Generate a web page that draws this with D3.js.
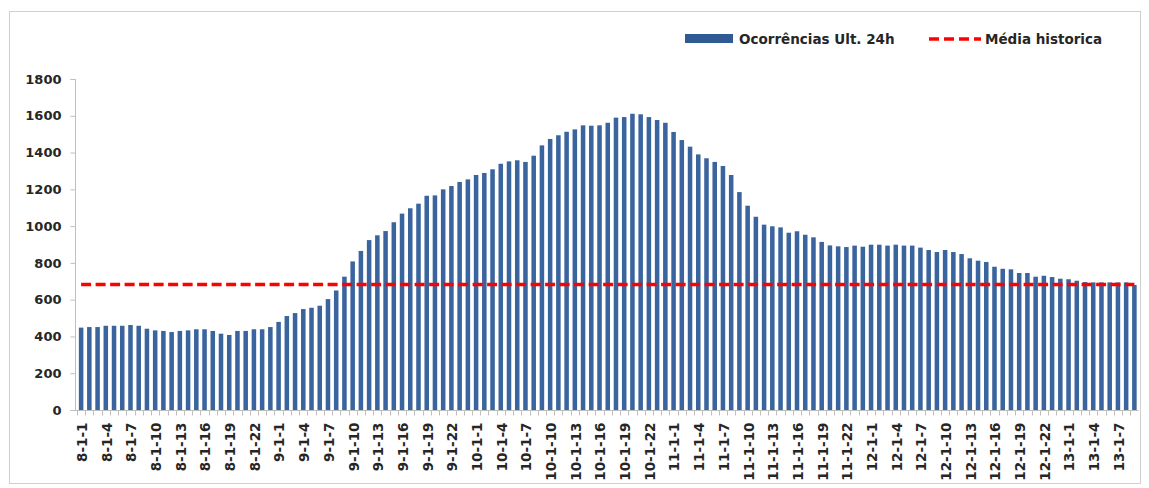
<!DOCTYPE html>
<html>
<head>
<meta charset="utf-8">
<script src="https://cdn.jsdelivr.net/npm/d3@7"></script>
<style>
  html, body { margin: 0; padding: 0; background: #ffffff; }
  svg { display: block; }
  text { font-family: "DejaVu Sans", "Liberation Sans", sans-serif; font-weight: bold; fill: #262626; }
</style>
</head>
<body>
<svg id="chart" width="1149" height="488"></svg>
<script>
// Hourly categories: day-month-hour
const categories = [
  "8-1-1","8-1-2","8-1-3","8-1-4","8-1-5","8-1-6","8-1-7","8-1-8","8-1-9","8-1-10","8-1-11","8-1-12",
  "8-1-13","8-1-14","8-1-15","8-1-16","8-1-17","8-1-18","8-1-19","8-1-20","8-1-21","8-1-22","8-1-23","8-1-24",
  "9-1-1","9-1-2","9-1-3","9-1-4","9-1-5","9-1-6","9-1-7","9-1-8","9-1-9","9-1-10","9-1-11","9-1-12",
  "9-1-13","9-1-14","9-1-15","9-1-16","9-1-17","9-1-18","9-1-19","9-1-20","9-1-21","9-1-22","9-1-23","9-1-24",
  "10-1-1","10-1-2","10-1-3","10-1-4","10-1-5","10-1-6","10-1-7","10-1-8","10-1-9","10-1-10","10-1-11","10-1-12",
  "10-1-13","10-1-14","10-1-15","10-1-16","10-1-17","10-1-18","10-1-19","10-1-20","10-1-21","10-1-22","10-1-23","10-1-24",
  "11-1-1","11-1-2","11-1-3","11-1-4","11-1-5","11-1-6","11-1-7","11-1-8","11-1-9","11-1-10","11-1-11","11-1-12",
  "11-1-13","11-1-14","11-1-15","11-1-16","11-1-17","11-1-18","11-1-19","11-1-20","11-1-21","11-1-22","11-1-23","11-1-24",
  "12-1-1","12-1-2","12-1-3","12-1-4","12-1-5","12-1-6","12-1-7","12-1-8","12-1-9","12-1-10","12-1-11","12-1-12",
  "12-1-13","12-1-14","12-1-15","12-1-16","12-1-17","12-1-18","12-1-19","12-1-20","12-1-21","12-1-22","12-1-23","12-1-24",
  "13-1-1","13-1-2","13-1-3","13-1-4","13-1-5","13-1-6","13-1-7","13-1-8","13-1-9"
];

// Occurrences in the last 24 hours
const occurrences = [
  448, 451, 451, 458, 458, 458, 462, 458, 442, 433, 430, 424,
  430, 433, 439, 439, 430, 415, 408, 430, 430, 439, 439, 451,
  479, 511, 527, 549, 556, 567, 603, 650, 725, 808, 865, 924,
  950, 973, 1021, 1068, 1097, 1122, 1165, 1167, 1200, 1218, 1240, 1254,
  1278, 1289, 1309, 1339, 1352, 1358, 1349, 1383, 1439, 1474, 1494, 1513,
  1526, 1548, 1546, 1548, 1562, 1590, 1593, 1611, 1608, 1593, 1577, 1562,
  1512, 1468, 1432, 1390, 1369, 1349, 1327, 1278, 1185, 1111, 1051, 1008,
  999, 993, 964, 972, 953, 939, 914, 895, 890, 886, 894, 888,
  899, 899, 894, 899, 894, 894, 883, 870, 859, 870, 859, 848,
  825, 812, 805, 779, 768, 765, 745, 745, 725, 730, 723, 714,
  711, 703, 696, 694, 694, 694, 694, 694, 680
];

// Historical average (constant reference)
const historicalAverage = 683;

const yTicks = [0, 200, 400, 600, 800, 1000, 1200, 1400, 1600, 1800];
const seriesNames = ["Ocorrências Ult. 24h", "Média historica"];

const svg = d3.select("#chart");

// outer frame
svg.append("rect")
  .attr("x", 9.5).attr("y", 11.5)
  .attr("width", 1131).attr("height", 472)
  .attr("fill", "none").attr("stroke", "#cfcfcf").attr("stroke-width", 1);

const plotLeft = 75, plotRight = 1138.5, plotTop = 79, plotBottom = 410;

const x = d3.scaleBand()
  .domain(categories)
  .range([plotLeft + 2, plotRight])
  .paddingInner(0.45)
  .paddingOuter(0.225);

const y = d3.scaleLinear()
  .domain([0, 1800])
  .range([plotBottom, plotTop]);

// bars
svg.append("g")
  .selectAll("rect")
  .data(occurrences)
  .join("rect")
  .attr("x", (d, i) => x(categories[i]))
  .attr("y", d => y(d))
  .attr("width", x.bandwidth())
  .attr("height", d => y(0) - y(d))
  .attr("fill", "#3a649d");

// y axis
const yAxis = d3.axisLeft(y)
  .tickValues(yTicks)
  .tickFormat(d3.format("d"))
  .tickSize(5)
  .tickPadding(9);

const gy = svg.append("g")
  .attr("transform", `translate(${plotLeft + 0.5},0)`)
  .call(yAxis);
gy.select(".domain").attr("stroke", "#bfbfbf").attr("d", `M-5,${plotTop + 0.5}H0V${plotBottom + 0.5}H-5`);
gy.selectAll(".tick line").attr("stroke", "#bfbfbf");
gy.selectAll(".tick text")
  .style("font-size", "13px")
  .attr("fill", "#262626");

// x axis: ticks between every category, labels every third hour
const step = x.step();
const gx = svg.append("g").attr("transform", `translate(0,${plotBottom + 0.5})`);
gx.append("line")
  .attr("x1", plotLeft).attr("x2", plotRight)
  .attr("y1", 0).attr("y2", 0)
  .attr("stroke", "#bfbfbf");
gx.selectAll("line.tick")
  .data(categories)
  .join("line")
  .attr("class", "tick")
  .attr("x1", d => Math.round(x(d) + x.bandwidth() / 2 - step / 2) + 0.5)
  .attr("x2", d => Math.round(x(d) + x.bandwidth() / 2 - step / 2) + 0.5)
  .attr("y1", 0).attr("y2", 5)
  .attr("stroke", "#bfbfbf");

const labelled = categories.filter((d, i) => i % 3 === 0);
gx.selectAll("text")
  .data(labelled)
  .join("text")
  .attr("transform", d => `translate(${x(d) + x.bandwidth() / 2 + 1},12) rotate(-90)`)
  .attr("text-anchor", "end")
  .attr("dy", "0.36em")
  .style("font-size", "13.5px")
  .text(d => d);

// historical average line across the category centres
const line = d3.line()
  .x(d => x(d) + x.bandwidth() / 2)
  .y(() => y(historicalAverage));
svg.append("path")
  .datum([categories[0], categories[categories.length - 1]])
  .attr("d", line)
  .attr("fill", "none")
  .attr("stroke", "#ff0000")
  .attr("stroke-width", 3.5)
  .attr("stroke-dasharray", "10,4.5");

// legend
const legend = svg.append("g");
legend.append("rect")
  .attr("x", 685).attr("y", 34)
  .attr("width", 48).attr("height", 9)
  .attr("fill", "#2f5a93");
legend.append("text")
  .attr("x", 739).attr("y", 44)
  .style("font-size", "13.5px")
  .text(seriesNames[0]);
legend.append("line")
  .attr("x1", 929).attr("x2", 981)
  .attr("y1", 39).attr("y2", 39)
  .attr("stroke", "#ff0000")
  .attr("stroke-width", 3.5)
  .attr("stroke-dasharray", "10,5");
legend.append("text")
  .attr("x", 985).attr("y", 44)
  .style("font-size", "13.5px")
  .text(seriesNames[1]);
</script>
</body>
</html>
